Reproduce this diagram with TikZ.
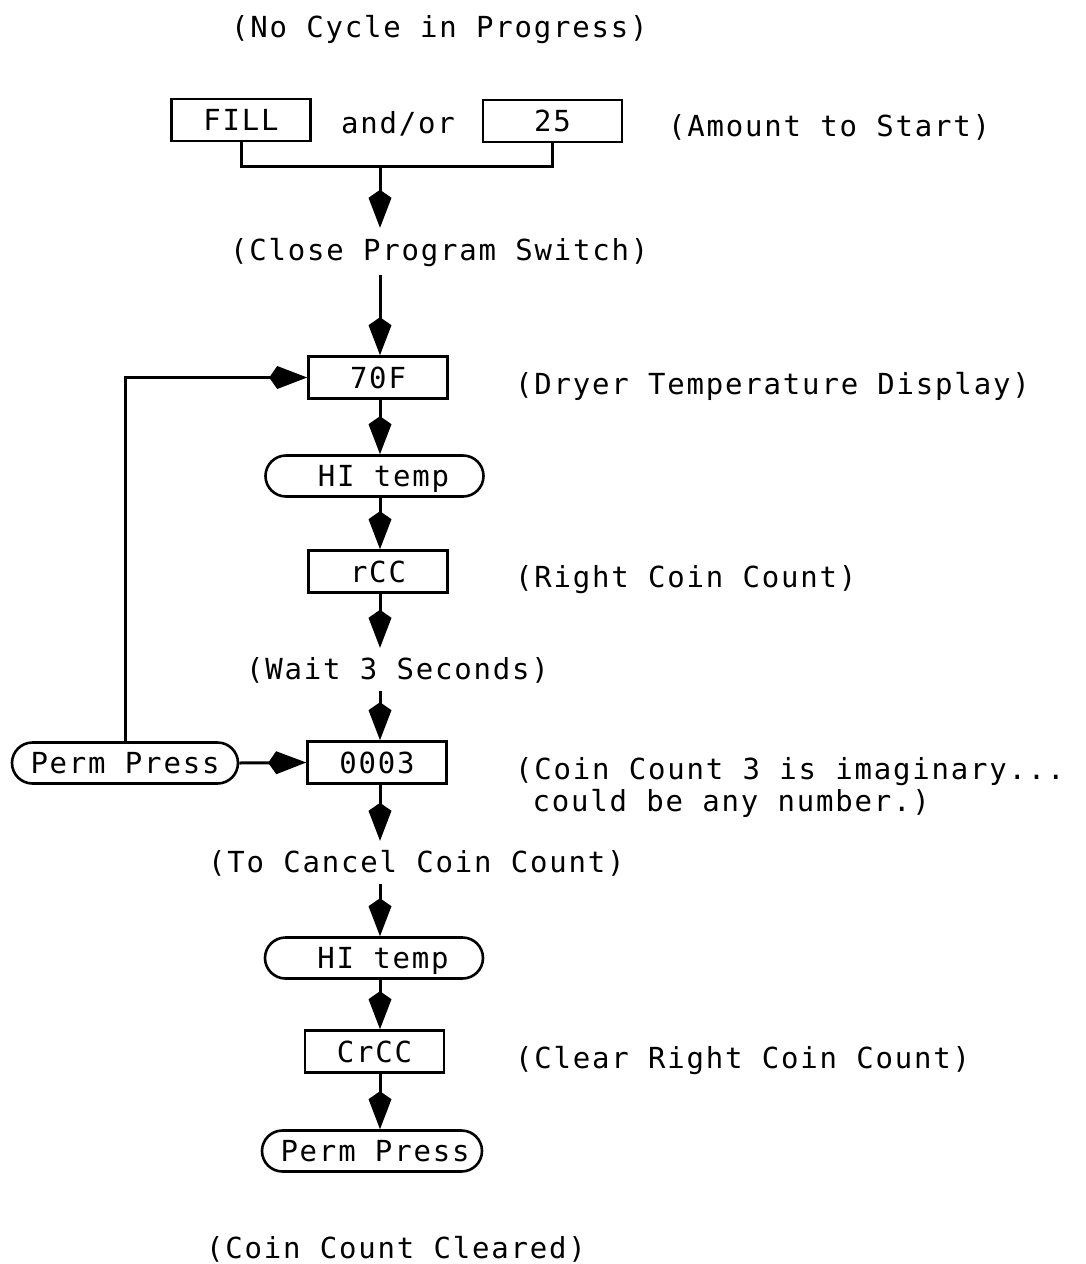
\documentclass[tikz,border=0pt]{standalone}
\usepackage{fontspec}
\newfontfamily\tw[LetterSpace=6.2]{DejaVu Sans Mono}
\usetikzlibrary{arrows.meta,shapes.misc}
\begin{document}
\begin{tikzpicture}[x=1pt,y=-1pt,
  every node/.style={font=\tw\fontsize{29}{32}\selectfont, inner sep=0pt},
  lbl/.style={anchor=base west, text height=22pt, text depth=6pt},
  box/.style={draw, line width=2.6pt, minimum width=139pt, minimum height=42pt, text height=21pt, text depth=0pt},
  pill/.style={draw, rounded rectangle, line width=2.6pt, minimum width=218pt, minimum height=41pt, text height=21pt, text depth=0pt},
  conn/.style={line width=3pt},
  arr/.style={line width=3pt, -{Kite[length=38pt,width=23pt,inset=8pt]}},
]
\useasboundingbox (0,0) rectangle (1086,1264);

\node[lbl] (nocycle) at (231,37) {(No Cycle in Progress)};
\node[box] (fill) at (241,120) {FILL};
\node[lbl] (andor) at (341,133) {and/or};
\node[box] (tf) at (552.5,121) {25};
\node[lbl] (amount) at (668,136) {(Amount to Start)};
\coordinate (junc) at (380,166);
\node[lbl] (close) at (230,260) {(Close Program Switch)};
\node[box] (f70) at (378,377.5) {70F};
\node[lbl] (dryer) at (515,394) {(Dryer Temperature Display)};
\node[pill] (hi1) at (374.5,476) {\hspace*{18pt}HI temp};
\node[box] (rcc) at (378,571.5) {rCC};
\node[lbl] (right) at (515,587) {(Right Coin Count)};
\node[lbl] (wait) at (246,679) {(Wait 3 Seconds)};
\node[box] (c3) at (377,762.5) {0003};
\node[pill, minimum width=226pt] (pp1) at (125,763) {Perm Press};
\node[lbl] (coin1) at (515,779) {(Coin Count 3 is imaginary...};
\node[lbl] (coin2) at (515,811) {\phantom{(}could be any number.)};
\node[lbl] (cancel) at (208,872) {(To Cancel Coin Count)};
\node[pill] (hi2) at (374,958) {\hspace*{18pt}HI temp};
\node[box] (crcc) at (374.5,1051.5) {CrCC};
\node[lbl] (clear) at (515,1068) {(Clear Right Coin Count)};
\node[pill, minimum width=220pt] (pp2) at (372,1151) {\hspace*{6pt}Perm Press};
\node[lbl] (cleared) at (206,1258) {(Coin Count Cleared)};

\draw[conn] (fill.south) |- (junc) -| (tf.south);
\draw[arr, shorten >=10pt] (junc) -- (junc |- close.north);
\draw[arr, shorten <=9pt] (close.south -| junc) -- (junc |- f70.north);
\draw[arr] (f70.south -| junc) -- (junc |- hi1.north);
\draw[arr] (hi1.south -| junc) -- (junc |- rcc.north);
\draw[arr, shorten >=9pt] (rcc.south -| junc) -- (junc |- wait.north);
\draw[arr, shorten <=6pt] (wait.south -| junc) -- (junc |- c3.north);
\draw[arr, shorten >=9pt] (c3.south -| junc) -- (junc |- cancel.north);
\draw[arr, shorten <=6pt] (cancel.south -| junc) -- (junc |- hi2.north);
\draw[arr] (hi2.south -| junc) -- (junc |- crcc.north);
\draw[arr] (crcc.south -| junc) -- (junc |- pp2.north);
\draw[arr] (pp1.north) |- (f70.west);
\draw[arr] (pp1.east) -- (c3.west);
\end{tikzpicture}
\end{document}
